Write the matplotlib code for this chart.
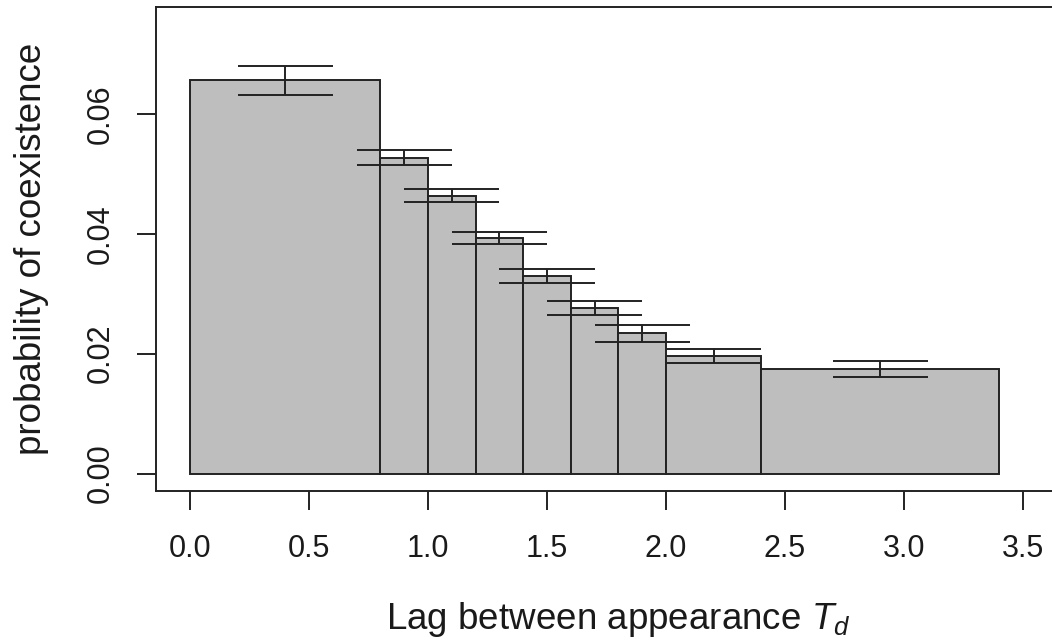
import numpy as np
import matplotlib
matplotlib.use("Agg")
import matplotlib.pyplot as plt

plt.rcParams['font.family'] = ['Liberation Sans', 'DejaVu Sans']
plt.rcParams['mathtext.fontset'] = 'custom'
plt.rcParams['mathtext.rm'] = 'Liberation Sans'
plt.rcParams['mathtext.it'] = 'Liberation Sans:italic'

# bin edges of the lag T_d and probability per bin
bin_edges = [0.0, 0.8, 1.0, 1.2, 1.4, 1.6, 1.8, 2.0, 2.4, 3.4]
prob = [0.0656, 0.0527, 0.0463, 0.0393, 0.0330, 0.0276, 0.0234, 0.0196, 0.0175]
err_hi = [0.0680, 0.0539, 0.0474, 0.0403, 0.0341, 0.0288, 0.0248, 0.0208, 0.0188]
err_lo = [0.0631, 0.0514, 0.0453, 0.0383, 0.0318, 0.0265, 0.0219, 0.0184, 0.0161]

xticks = [0.0, 0.5, 1.0, 1.5, 2.0, 2.5, 3.0, 3.5]
yticks = [0.00, 0.02, 0.04, 0.06]

edges = np.array(bin_edges)
lefts = edges[:-1]
widths = np.diff(edges)
centers = lefts + widths / 2

ink = '#222222'
lw = 1.4
cap = 0.2

fig = plt.figure(figsize=(10.52, 6.43), dpi=100)
ax = fig.add_axes([156 / 1052, 1 - 491 / 643, 924 / 1052, 484 / 643])

ax.bar(lefts, prob, width=widths, align='edge', color='#bebebe',
       edgecolor=ink, linewidth=lw)
ax.vlines(centers, err_lo, err_hi, color=ink, linewidth=lw)
ax.hlines(err_hi, centers - cap, centers + cap, color=ink, linewidth=lw)
ax.hlines(err_lo, centers - cap, centers + cap, color=ink, linewidth=lw)

ax.set_xlim(-0.143, 3.74)
ax.set_ylim(-0.0029, 0.0778)

ax.set_xticks(xticks)
ax.set_xticklabels([f'{v:.1f}' for v in xticks])
ax.set_yticks(yticks)
ax.set_yticklabels([f'{v:.2f}' for v in yticks], rotation=90, va='center')

ax.tick_params(direction='out', length=13.7, width=lw, color=ink,
               labelsize=22, labelcolor='#1a1a1a')
ax.tick_params(axis='x', pad=17)
ax.tick_params(axis='y', pad=15)

for s in ax.spines.values():
    s.set_linewidth(lw)
    s.set_color(ink)

ax.set_xlabel('Lag between appearance $T_d$', fontsize=26.5, color='#1a1a1a')
ax.set_ylabel('probability of coexistence', fontsize=26.5, color='#1a1a1a')
ax.xaxis.set_label_coords(0.5, -0.2665)
ax.yaxis.set_label_coords(-0.1342, 0.5)
ax.xaxis.label.set_va('center')
ax.yaxis.label.set_va('center')

fig.savefig('out.png', dpi=100)
